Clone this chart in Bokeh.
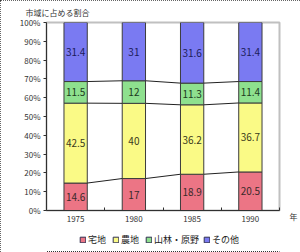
from bokeh.plotting import figure
from bokeh.layouts import column
from bokeh.models import (ColumnDataSource, Range1d, FixedTicker, LinearAxis,
                          PrintfTickFormatter)
from bokeh.core.properties import value
from bokeh.embed import file_html
from bokeh.resources import INLINE

years = ["1975", "1980", "1985", "1990"]
takuchi = [14.6, 17, 18.9, 20.5]
nouchi = [42.5, 40, 36.2, 36.7]
sanrin = [11.5, 12, 11.3, 11.4]
sonota = [31.4, 31, 31.6, 31.4]
series_names = ["宅地", "農地", "山林・原野", "その他"]
y_ticks = [0, 10, 20, 30, 40, 50, 60, 70, 80, 90, 100]
y_title = "市域に占める割合"
x_unit = "年"

colors = ["#ec7585", "#fafa86", "#8ee08e", "#7a7af2"]
text_colors = ["#3a2a2a", "#3a3a20", "#203a20", "#1c1c5a"]
FONT = "Noto Sans CJK JP"

series = [takuchi, nouchi, sanrin, sonota]
xs = [i + 0.5 for i in range(len(years))]
totals = [sum(v) for v in zip(*series)]
# 100% stacked: shares of each year's total
shares = [[v / t * 100 for v, t in zip(s, totals)] for s in series]
keys = ["s0", "s1", "s2", "s3"]
data = {"x": xs}
for k, s in zip(keys, shares):
    data[k] = s
src = ColumnDataSource(data)

p = figure(width=300, height=230, output_backend="svg", toolbar_location=None,
           x_range=Range1d(0, len(years)), y_range=Range1d(0, 100),
           min_border_left=46, min_border_right=16, min_border_top=20,
           min_border_bottom=20, background_fill_color="white",
           border_fill_color="white")
p.outline_line_color = "#c0c0c0"
p.outline_line_width = 2
p.grid.visible = False

BW = 0.4
p.vbar_stack(keys, x="x", width=BW, source=src, color=colors,
             line_color="#3c3c3c", line_width=1)

# series lines between bars
cum = [0.0] * len(years)
x0s, x1s, ys = [], [], []
mid_x, mid_y, mid_t, mid_c = [], [], [], []
for si, (s, sh) in enumerate(zip(series, shares)):
    for i, (v, h) in enumerate(zip(s, sh)):
        mid_x.append(xs[i]); mid_y.append(cum[i] + h / 2)
        mid_t.append(f"{v:g}"); mid_c.append(text_colors[si])
    newcum = [c + h for c, h in zip(cum, sh)]
    if si < len(series) - 1:
        for i in range(len(years) - 1):
            x0s.append(xs[i] + BW / 2); x1s.append(xs[i + 1] - BW / 2)
            ys.append((newcum[i], newcum[i + 1]))
    cum = newcum
p.segment(x0=x0s, y0=[a for a, b in ys], x1=x1s, y1=[b for a, b in ys],
          line_color="#222222", line_width=1)

p.text(x=mid_x, y=mid_y, text=mid_t, text_color=mid_c, text_align="center",
       text_baseline="middle", text_font=value(FONT), text_font_size="10px")

# axes
ya = p.yaxis[0]
ya.ticker = FixedTicker(ticks=y_ticks, minor_ticks=[])
ya.formatter = PrintfTickFormatter(format="%d%%")
ya.major_tick_in = 0
ya.major_tick_out = 3
ya.minor_tick_in = 0
ya.minor_tick_out = 0
ya.axis_line_color = "#303030"
ya.major_tick_line_color = "#303030"
ya.major_label_text_font = FONT
ya.major_label_text_font_size = "8px"
ya.major_label_text_color = "#333333"
ya.major_label_standoff = 3

xa = p.xaxis[0]
xa.ticker = FixedTicker(ticks=xs, minor_ticks=list(range(len(years) + 1)))
xa.major_label_overrides = {x: y for x, y in zip(xs, years)}
xa.major_tick_in = 0
xa.major_tick_out = 0
xa.minor_tick_in = 3
xa.minor_tick_out = 0
xa.minor_tick_line_color = "#303030"
xa.axis_line_color = "#303030"
xa.major_label_text_font = FONT
xa.major_label_text_font_size = "8px"
xa.major_label_text_color = "#333333"
xa.major_label_standoff = 5

# unit label "年" right of the x axis
p.extra_y_ranges = {"unit": Range1d(0, 100)}
ra = LinearAxis(y_range_name="unit", ticker=FixedTicker(ticks=[0], minor_ticks=[]),
                major_label_overrides={0: " \n \n" + x_unit})
ra.axis_line_color = None
ra.major_tick_line_color = None
ra.minor_tick_line_color = None
ra.major_label_standoff = 4
ra.major_label_text_font = FONT
ra.major_label_text_font_size = "8px"
ra.major_label_text_color = "#333333"
ra.major_label_text_line_height = 0.55
p.add_layout(ra, "right")

p.title.text = y_title
p.title.text_font = FONT
p.title.text_font_size = "8px"
p.title.text_font_style = "normal"
p.title.text_color = "#333333"
p.title.align = "left"
p.title.offset = -21
p.title.standoff = 9

# legend strip (its frame is aligned with the main frame by the column)
p2 = figure(width=300, height=22, output_backend="svg", toolbar_location=None,
            x_range=Range1d(0, 1), y_range=Range1d(0, 1),
            x_axis_location=None, y_axis_location=None,
            min_border=0, background_fill_color=None,
            border_fill_color="white", outline_line_color=None)
p2.grid.visible = False
for name, c in zip(series_names, colors):
    # one point placed outside the visible range: only its legend swatch shows
    p2.vbar(x=[-5], bottom=[-6], top=[-5], width=0.4, fill_color=c,
            line_color="#303050", legend_label=name)
legend = p2.legend[0]
legend.orientation = "horizontal"
legend.location = (33, 6)
legend.label_text_font = FONT
legend.label_text_font_size = "9px"
legend.label_text_color = "#222222"
legend.glyph_width = 7
legend.glyph_height = 7
legend.label_standoff = 2
legend.spacing = 4
legend.padding = 2
legend.margin = 0
legend.border_line_color = None
legend.background_fill_alpha = 0
legend.label_height = 9

layout = column(p, p2, spacing=0)
layout.styles = {"outline": "1px dotted #333333", "outline-offset": "-1px"}

open("out.html", "w").write(file_html(layout, INLINE))
